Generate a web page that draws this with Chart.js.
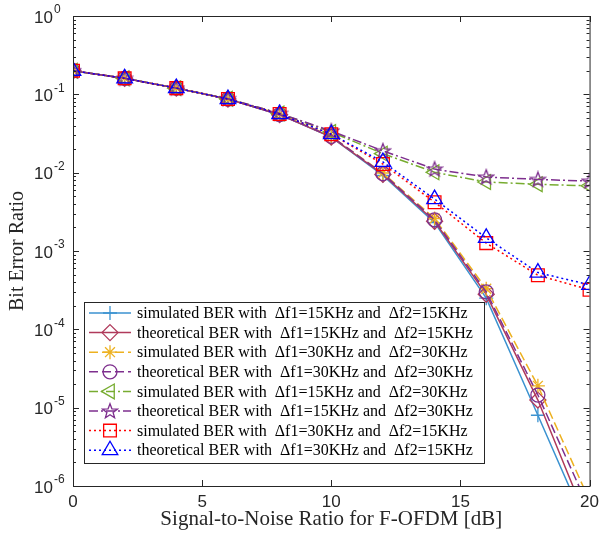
<!DOCTYPE html>
<html>
<head>
<meta charset="utf-8">
<script src="https://cdn.jsdelivr.net/npm/chart.js@4.4.0/dist/chart.umd.min.js"></script>
<style>
html, body { margin: 0; padding: 0; background: #fff; }
</style>
</head>
<body>
<canvas id="berChart" width="605" height="534"></canvas>
<script>
// --- data ---
const snrDb = [0, 2, 4, 6, 8, 10, 12, 14, 16, 18, 20];

const sim15_15  = [0.2, 0.16, 0.12, 0.087, 0.055, 0.0285, 0.0092, 0.0023, 0.00025, 8.0e-6, 2.5e-7];
const theo15_15 = [0.2, 0.16, 0.12, 0.087, 0.055, 0.0285, 0.0095, 0.0024, 0.00028, 1.25e-5, 3.0e-7];
const sim30_30  = [0.2, 0.16, 0.12, 0.087, 0.056, 0.029, 0.0099, 0.0026, 0.00033, 1.9e-5, 6.5e-7];
const theo30_30 = [0.2, 0.16, 0.12, 0.087, 0.055, 0.029, 0.0097, 0.0025, 0.00030, 1.45e-5, 5.0e-7];
const sim15_30  = [0.2, 0.16, 0.12, 0.088, 0.057, 0.033, 0.0175, 0.0101, 0.0076, 0.0071, 0.0068];
const theo15_30 = [0.2, 0.16, 0.12, 0.088, 0.057, 0.034, 0.019, 0.0111, 0.0088, 0.0082, 0.0078];
const sim30_15  = [0.2, 0.16, 0.12, 0.087, 0.056, 0.031, 0.0129, 0.0042, 0.00126, 0.00049, 0.00032];
const theo30_15 = [0.2, 0.16, 0.12, 0.087, 0.056, 0.031, 0.0137, 0.0046, 0.00147, 0.00053, 0.00037];

const xTickValues = [0, 5, 10, 15, 20];
const yDecades = [0, -1, -2, -3, -4, -5, -6];

const legendLabels = [
    'simulated BER with  \u0394f1=15KHz and  \u0394f2=15KHz',
    'theoretical BER with  \u0394f1=15KHz and  \u0394f2=15KHz',
    'simulated BER with  \u0394f1=30KHz and  \u0394f2=30KHz',
    'theoretical BER with  \u0394f1=30KHz and  \u0394f2=30KHz',
    'simulated BER with  \u0394f1=15KHz and  \u0394f2=30KHz',
    'theoretical BER with  \u0394f1=15KHz and  \u0394f2=30KHz',
    'simulated BER with  \u0394f1=30KHz and  \u0394f2=15KHz',
    'theoretical BER with  \u0394f1=30KHz and  \u0394f2=15KHz'
];

// 5-point star marker (Chart.js has none)
function makeStar(color, size) {
    const c = document.createElement('canvas');
    c.width = size; c.height = size;
    const g = c.getContext('2d');
    g.strokeStyle = color;
    g.lineWidth = 1.3;
    const cx = size / 2, cy = size / 2 + 0.5, R = size / 2 - 1.2, r = R * 0.42;
    g.beginPath();
    for (let k = 0; k < 10; k++) {
        const a = -Math.PI / 2 + k * Math.PI / 5;
        const rr = k % 2 ? r : R;
        g.lineTo(cx + rr * Math.cos(a), cy + rr * Math.sin(a));
    }
    g.closePath();
    g.stroke();
    return c;
}
const starImg = makeStar('#7E2F8E', 18);

const series = [
    { data: sim15_15,  color: '#3B92D0', dash: [],           marker: 'cross',    r: 7,   rot: 0 },
    { data: theo15_15, color: '#B03A5B', dash: [],           marker: 'rectRot',  r: 8,   rot: 0 },
    { data: sim30_30,  color: '#EDB120', dash: [9, 4],       marker: 'star',     r: 7,   rot: 0 },
    { data: theo30_30, color: '#7E2F8E', dash: [9, 4],       marker: 'circle',   r: 7,   rot: 0 },
    { data: sim15_30,  color: '#77AC30', dash: [9, 3, 2, 3], marker: 'triangle', r: 8.5, rot: -90 },
    { data: theo15_30, color: '#7E2F8E', dash: [9, 3, 2, 3], marker: starImg,    r: 8,   rot: 0 },
    { data: sim30_15,  color: '#FF0000', dash: [2, 3],       marker: 'rect',     r: 9,   rot: 0 },
    { data: theo30_15, color: '#0000FF', dash: [2, 3],       marker: 'triangle', r: 9,   rot: 0 }
];

const datasets = series.map((s, i) => ({
    label: legendLabels[i],
    data: snrDb.map((x, k) => ({ x: x, y: s.data[k] })),
    borderColor: s.color,
    borderWidth: 1.5,
    borderDash: s.dash,
    pointStyle: s.marker,
    pointRadius: s.r,
    pointRotation: s.rot,
    pointBorderColor: s.color,
    pointBackgroundColor: 'rgba(0,0,0,0)',
    pointBorderWidth: 1.3,
    tension: 0,
    fill: false,
    order: series.length - i
}));

const AXIS = '#262626';

// marker drawing for the hand-made legend
function drawMarker(ctx, s, x, y) {
    const r = s.r;
    ctx.save();
    ctx.strokeStyle = s.color;
    ctx.lineWidth = 1.3;
    ctx.setLineDash([]);
    ctx.beginPath();
    if (s.marker instanceof HTMLCanvasElement) {
        ctx.drawImage(s.marker, x - s.marker.width / 2, y - s.marker.height / 2);
    } else if (s.marker === 'cross') {
        ctx.moveTo(x - r, y); ctx.lineTo(x + r, y);
        ctx.moveTo(x, y - r); ctx.lineTo(x, y + r);
    } else if (s.marker === 'star') {
        const d = r * Math.SQRT1_2;
        ctx.moveTo(x - r, y); ctx.lineTo(x + r, y);
        ctx.moveTo(x, y - r); ctx.lineTo(x, y + r);
        ctx.moveTo(x - d, y - d); ctx.lineTo(x + d, y + d);
        ctx.moveTo(x - d, y + d); ctx.lineTo(x + d, y - d);
    } else if (s.marker === 'rectRot') {
        ctx.moveTo(x, y - r); ctx.lineTo(x + r, y); ctx.lineTo(x, y + r); ctx.lineTo(x - r, y); ctx.closePath();
    } else if (s.marker === 'circle') {
        ctx.arc(x, y, r, 0, Math.PI * 2);
    } else if (s.marker === 'rect') {
        const h = r * Math.SQRT1_2;
        ctx.rect(x - h, y - h, 2 * h, 2 * h);
    } else if (s.marker === 'triangle') {
        const a0 = s.rot * Math.PI / 180;
        for (let k = 0; k < 3; k++) {
            const a = a0 + k * 2 * Math.PI / 3;
            ctx.lineTo(x + Math.sin(a) * r, y - Math.cos(a) * r);
        }
        ctx.closePath();
    }
    ctx.stroke();
    ctx.restore();
}

const framePlugin = {
    id: 'frame',
    afterDraw(chart) {
        const { ctx, chartArea: a, scales } = chart;
        const ys = scales.y, xs = scales.x;
        ctx.save();
        ctx.strokeStyle = AXIS;
        ctx.lineWidth = 1;
        ctx.setLineDash([]);
        ctx.strokeRect(a.left + 0.5, a.top + 0.5, a.right - a.left, a.bottom - a.top);

        // x ticks, inside, top and bottom
        ctx.beginPath();
        xTickValues.forEach(v => {
            const px = Math.round(xs.getPixelForValue(v)) + 0.5;
            ctx.moveTo(px, a.bottom); ctx.lineTo(px, a.bottom - 6);
            ctx.moveTo(px, a.top); ctx.lineTo(px, a.top + 6);
        });
        // y decade + minor ticks, inside, left and right
        yDecades.forEach(e => {
            const py = Math.round(ys.getPixelForValue(Math.pow(10, e))) + 0.5;
            ctx.moveTo(a.left, py); ctx.lineTo(a.left + 6, py);
            ctx.moveTo(a.right, py); ctx.lineTo(a.right - 6, py);
            if (e > -6) {
                for (let m = 2; m <= 9; m++) {
                    const pm = Math.round(ys.getPixelForValue(m * Math.pow(10, e - 1))) + 0.5;
                    ctx.moveTo(a.left, pm); ctx.lineTo(a.left + 3, pm);
                    ctx.moveTo(a.right, pm); ctx.lineTo(a.right - 3, pm);
                }
            }
        });
        ctx.stroke();

        // y tick labels 10^e
        ctx.fillStyle = AXIS;
        ctx.textBaseline = 'middle';
        yDecades.forEach(e => {
            const py = ys.getPixelForValue(Math.pow(10, e));
            ctx.font = '17px "Liberation Sans", Arial, sans-serif';
            ctx.textAlign = 'right';
            ctx.fillText('10', 53, py + 2);
            ctx.font = '12px "Liberation Sans", Arial, sans-serif';
            ctx.textAlign = 'left';
            ctx.fillText(e === 0 ? '0' : '-' + Math.abs(e), 54, py - 6);
        });

        // legend box
        const lx = 84, ly = 302, lw = 400, lh = 161, rowH = 19.6;
        ctx.fillStyle = '#fff';
        ctx.fillRect(lx, ly, lw, lh);
        ctx.strokeStyle = AXIS;
        ctx.strokeRect(lx + 0.5, ly + 0.5, lw, lh);
        series.forEach((s, i) => {
            const cy = ly + 11 + i * rowH;
            ctx.save();
            ctx.strokeStyle = s.color;
            ctx.lineWidth = 1.5;
            ctx.setLineDash(s.dash);
            ctx.beginPath();
            ctx.moveTo(89, cy); ctx.lineTo(131, cy);
            ctx.stroke();
            ctx.restore();
            drawMarker(ctx, s, 110, cy);
            ctx.fillStyle = '#000';
            ctx.font = '16px "Liberation Serif", "Times New Roman", serif';
            ctx.textAlign = 'left';
            ctx.textBaseline = 'middle';
            ctx.fillText(legendLabels[i], 137, cy + 1);
        });
        ctx.restore();
    }
};

new Chart(document.getElementById('berChart'), {
    type: 'line',
    data: { datasets: datasets },
    options: {
        responsive: false,
        animation: false,
        layout: { padding: { top: 16, right: 8, left: 0, bottom: 0 } },
        plugins: { legend: { display: false }, tooltip: { enabled: false } },
        scales: {
            x: {
                type: 'linear', min: 0, max: 20,
                grid: { display: false, drawTicks: false },
                border: { display: false },
                ticks: {
                    stepSize: 5, padding: 6, maxRotation: 0,
                    color: AXIS,
                    font: { family: '"Liberation Sans", Arial, sans-serif', size: 17 }
                },
                title: {
                    display: true,
                    text: 'Signal-to-Noise Ratio for F-OFDM [dB]',
                    color: AXIS,
                    font: { family: '"Liberation Serif", "Times New Roman", serif', size: 21 },
                    padding: { top: 0, bottom: 2 }
                },
                afterFit: s => { s.height = 48; }
            },
            y: {
                type: 'logarithmic', min: 1e-6, max: 1,
                grid: { display: false, drawTicks: false },
                border: { display: false },
                ticks: { display: false },
                title: {
                    display: true,
                    text: 'Bit Error Ratio',
                    color: AXIS,
                    font: { family: '"Liberation Serif", "Times New Roman", serif', size: 20 },
                    padding: { top: 6, bottom: 0 }
                },
                afterFit: s => { s.width = 73; }
            }
        }
    },
    plugins: [framePlugin]
});
</script>
</body>
</html>
